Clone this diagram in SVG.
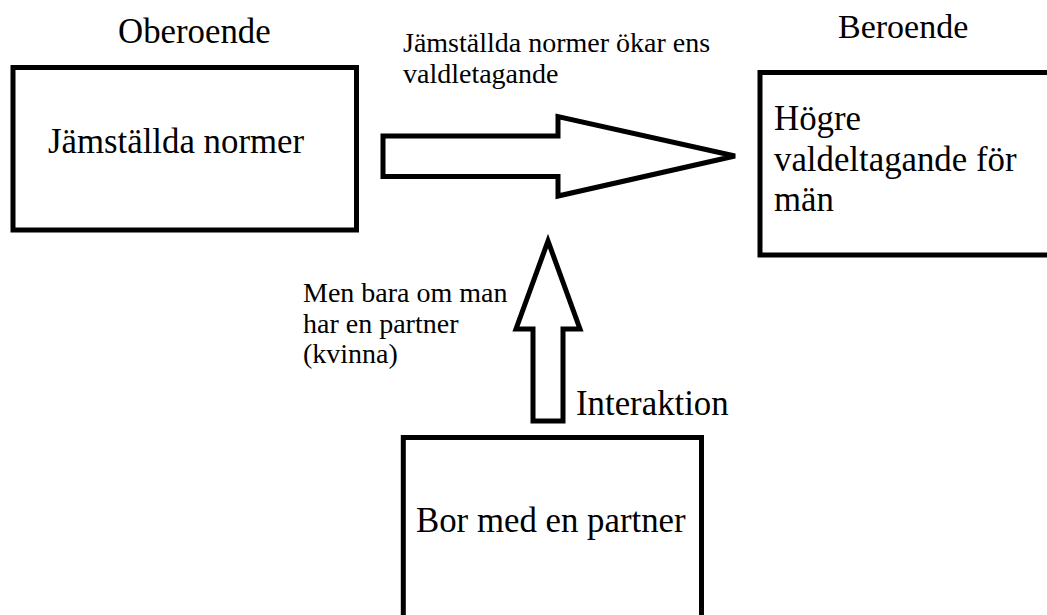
<svg xmlns="http://www.w3.org/2000/svg" width="1047" height="615" viewBox="0 0 1047 615">
<style>
.box{fill:#fff;stroke:#000;stroke-width:5}
.arr{fill:#fff;stroke:#000;stroke-width:5;stroke-linejoin:miter}
text{font-family:'Liberation Serif','DejaVu Serif',serif;fill:#000}
.big{font-size:34.8px}
.small{font-size:28px}
</style>
<rect width="1047" height="615" fill="#fff"/>
<g id="labels">
<text class="big" x="118" y="43.3">Oberoende</text>
<text class="big" x="838" y="38.3" style="font-size:34px">Beroende</text>
<text class="small" x="403" y="51.7">Jämställda normer ökar ens</text>
<text class="small" x="403" y="83.3">valdletagande</text>
<text class="small" x="303" y="301.7">Men bara om man</text>
<text class="small" x="303" y="332.7">har en partner</text>
<text class="small" x="303" y="363">(kvinna)</text>
<text class="big" x="576" y="415">Interaktion</text>
</g>
<g id="node-oberoende">
<rect class="box" x="13" y="67.5" width="343.5" height="162.5"/>
<text class="big" x="48" y="153">Jämställda normer</text>
</g>
<g id="node-beroende">
<rect class="box" x="760" y="72.5" width="300" height="182.5"/>
<text class="big" x="774" y="130">Högre</text>
<text class="big" x="774" y="170.5">valdeltagande för</text>
<text class="big" x="774" y="211">män</text>
</g>
<g id="node-partner">
<rect class="box" x="403.3" y="437.5" width="298.2" height="190"/>
<text class="big" x="416" y="531.7">Bor med en partner</text>
</g>
<g id="connectors">
<polygon class="arr" points="383,136 558,136 558,116.5 735,156 558,196 558,176.5 383,176.5"/>
<polygon class="arr" points="533,421 533,329 516,329 548,241 580,329 563,329 563,421"/>
</g>
</svg>
